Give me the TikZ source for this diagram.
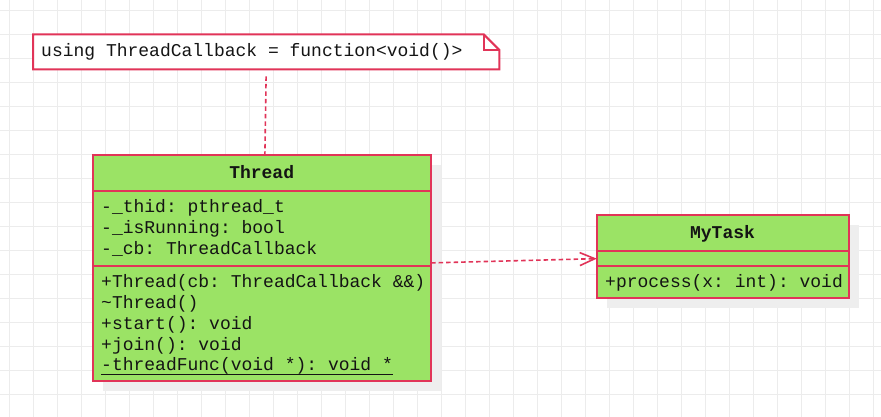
\documentclass[tikz,border=0pt]{standalone}
\usepackage{fontspec}
\setmonofont{Liberation Mono}
\usetikzlibrary{arrows.meta}
\definecolor{strk}{RGB}{225,52,88}
\definecolor{fillg}{RGB}{155,227,101}
\definecolor{shadc}{RGB}{238,238,238}
\definecolor{gridc}{RGB}{236,236,236}
\definecolor{txtc}{RGB}{20,20,20}
\tikzset{
  umlbox/.style={inner sep=0pt, anchor=north west},
  boxline/.style={draw=strk, fill=fillg, line width=2pt},
  sepline/.style={draw=strk, line width=2pt},
  txt/.style={inner sep=0pt, text=txtc, font=\ttfamily\fontsize{18}{21}\selectfont, anchor=base west},
  hdr/.style={inner sep=0pt, text=txtc, font=\ttfamily\bfseries\fontsize{18}{21}\selectfont, anchor=base},
  depline/.style={draw=strk, line width=1.6pt, dash pattern=on 4.5pt off 3pt},
}
\begin{document}
\begin{tikzpicture}[x=1pt,y=-1pt]
\useasboundingbox (0,0) rectangle (881,417);
\fill[white] (0,0) rectangle (881,417);
% grid
\foreach \k in {0,...,36} {\draw[gridc, line width=1pt] (9.5+24*\k,0) -- (9.5+24*\k,417);}
\foreach \k in {0,...,16} {\draw[gridc, line width=1pt] (0,10.5+24*\k) -- (881,10.5+24*\k);}

% note
\node[minimum width=466pt, minimum height=34.5pt, inner sep=0pt, anchor=north west] (note) at (33,34.5) {};
\draw[strk, line width=2pt, fill=white, line join=miter]
  (note.north west) -- ([xshift=-15.5pt]note.north east) -- ([yshift=-15.5pt]note.north east)
  -- (note.south east) -- (note.south west) -- cycle;
\draw[strk, line width=2pt]
  ([xshift=-15.5pt]note.north east) -- ([xshift=-15.5pt,yshift=-15.5pt]note.north east)
  -- ([yshift=-15.5pt]note.north east);
\node[txt] (notetext) at (41,56.7) {using ThreadCallback = function<void()>};

% Thread class
\node[umlbox, minimum width=338pt, minimum height=226pt] (thread) at (92.7,155) {};
\fill[shadc] ([xshift=10pt,yshift=-10pt]thread.north west) rectangle ([xshift=10pt,yshift=-10pt]thread.south east);
\path[boxline] (thread.north west) rectangle (thread.south east);
\draw[sepline] ([yshift=-36.3pt]thread.north west) -- ([yshift=-36.3pt]thread.north east);
\draw[sepline] ([yshift=-111pt]thread.north west) -- ([yshift=-111pt]thread.north east);
\node[hdr] (threadname) at (261.7,178.3) {Thread};
\node[txt] (a1) at (101,212.7) {-\_thid: pthread\_t};
\node[txt] (a2) at (101,233.5) {-\_isRunning: bool};
\node[txt] (a3) at (101,254.3) {-\_cb: ThreadCallback};
\node[txt] (m1) at (101,287.3) {+Thread(cb: ThreadCallback \&\&)};
\node[txt] (m2) at (101,308.2) {\string~Thread()};
\node[txt] (m3) at (101,329.1) {+start(): void};
\node[txt] (m4) at (101,350) {+join(): void};
\node[txt] (m5) at (101,370.9) {-threadFunc(void *): void *};
\draw[txtc, line width=1.2pt] ([yshift=-3.4pt]m5.base west) -- ([yshift=-3.4pt]m5.base east);

% MyTask class
\node[umlbox, minimum width=251.5pt, minimum height=82.3pt] (mytask) at (596.8,215) {};
\fill[shadc] ([xshift=10pt,yshift=-10pt]mytask.north west) rectangle ([xshift=10pt,yshift=-10pt]mytask.south east);
\path[boxline] (mytask.north west) rectangle (mytask.south east);
\draw[sepline] ([yshift=-36pt]mytask.north west) -- ([yshift=-36pt]mytask.north east);
\draw[sepline] ([yshift=-51pt]mytask.north west) -- ([yshift=-51pt]mytask.north east);
\node[hdr] (mytaskname) at (722.5,238.3) {MyTask};
\node[txt] (p1) at (605,287.3) {+process(x: int): void};

% connectors
\draw[depline, shorten <=7pt] (note.south) -- ([xshift=3pt]thread.north);
\draw[depline, -{Straight Barb[length=15pt,width=13pt,line width=1.6pt]}]
  ([yshift=5.3pt]thread.east) -- ([yshift=-2.3pt]mytask.west);
\end{tikzpicture}
\end{document}
